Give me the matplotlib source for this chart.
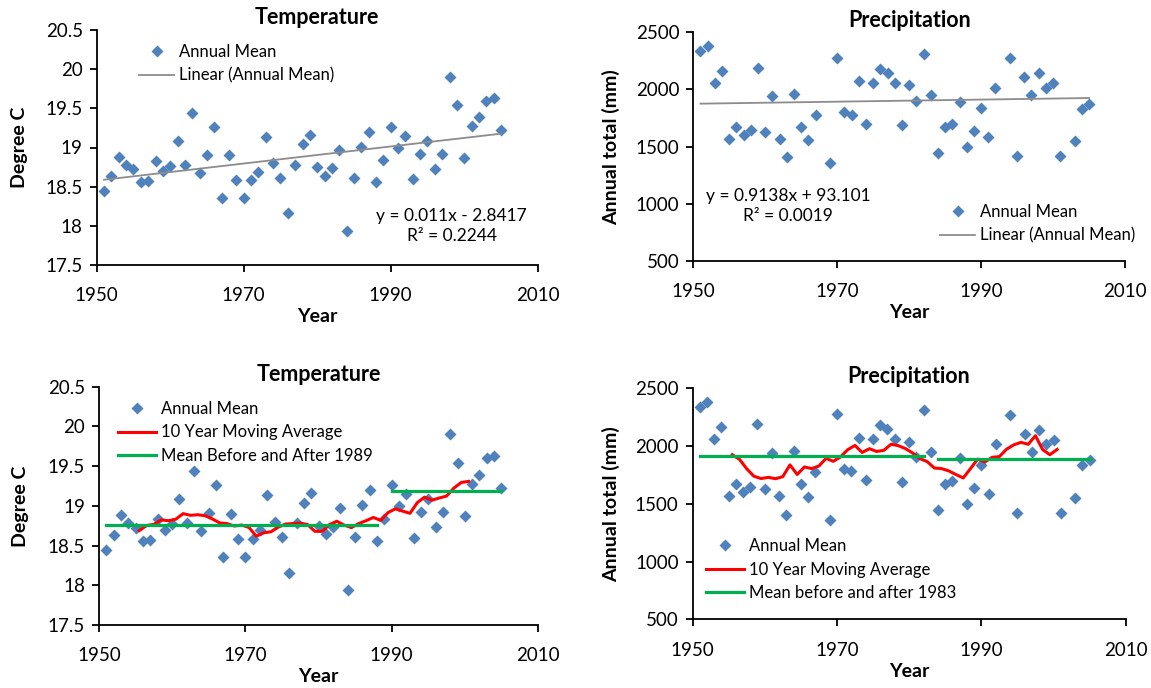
import matplotlib
matplotlib.use("Agg")
import matplotlib.pyplot as plt
import numpy as np
import pandas as pd

plt.rcParams['font.family'] = ['Lato', 'DejaVu Sans']

years = list(range(1951, 2006))

# annual mean temperature (degree C)
temp = [18.44, 18.63, 18.88, 18.78, 18.72, 18.56, 18.57, 18.83, 18.70, 18.77,
        19.08, 18.78, 19.44, 18.68, 18.91, 19.26, 18.36, 18.90, 18.58, 18.36,
        18.58, 18.69, 19.14, 18.80, 18.61, 18.16, 18.78, 19.04, 19.16, 18.75,
        18.64, 18.74, 18.97, 17.94, 18.61, 19.01, 19.20, 18.56, 18.84, 19.26,
        19.00, 19.15, 18.60, 18.92, 19.08, 18.73, 18.92, 19.90, 19.54, 18.87,
        19.28, 19.39, 19.60, 19.63, 19.22]

# annual total precipitation (mm); 1968, 1993, 2002 sit above the 2500 axis top
# (estimated from the moving average and the period means)
precip = [2336, 2383, 2058, 2161, 1570, 1673, 1599, 1649, 2190, 1629,
          1942, 1564, 1406, 1959, 1673, 1556, 1775, 2670, 1360, 2278,
          1804, 1781, 2073, 1702, 2058, 2178, 2146, 2058, 1687, 2038,
          1901, 2310, 1950, 1447, 1673, 1696, 1892, 1497, 1637, 1839,
          1585, 2015, 2760, 2272, 1418, 2105, 1950, 2140, 2015, 2053,
          1418, 2760, 1550, 1833, 1877]

precip_fit = [0.9138, 93.101]
temp_eq = ["y = 0.011x - 2.8417", "R² = 0.2244"]
precip_eq = ["y = 0.9138x + 93.101", "R² = 0.0019"]

# periods used for the before / after means
temp_periods = [(1951, 1988), (1990, 2005)]
precip_periods = [(1951, 1982), (1984, 2005)]

x_ticks = [1950, 1970, 1990, 2010]
temp_ticks = [17.5, 18, 18.5, 19, 19.5, 20, 20.5]
temp_labels = ['17.5', '18', '18.5', '19', '19.5', '20', '20.5']
precip_ticks = [500, 1000, 1500, 2000, 2500]

BLUE = '#4F81BD'
GRAY = '#8C8C8C'
RED = '#FF0000'
GREEN = '#00B050'

W, H = 1151, 688
fig = plt.figure(figsize=(W / 100, H / 100), dpi=100)

LEG = dict(bbox_transform=fig.transFigure, frameon=False, fontsize=12, handletextpad=0.3,
           borderpad=0, borderaxespad=0, labelspacing=0.45, loc='upper left')


def px_axes(x0, y0, x1, y1):
    return fig.add_axes([x0 / W, 1 - y1 / H, (x1 - x0) / W, (y1 - y0) / H])


def style(ax, ylim, yticks, ylabels, ylabel, title, ylab_x):
    ax.set_xlim(1950, 2010)
    ax.set_xticks(x_ticks)
    ax.set_ylim(ylim)
    ax.set_yticks(yticks)
    ax.set_yticklabels(ylabels)
    for s in ['top', 'right']:
        ax.spines[s].set_visible(False)
    for s in ['left', 'bottom']:
        ax.spines[s].set_linewidth(1.3)
    ax.tick_params(axis='both', direction='out', length=5, width=1.3, labelsize=13.5)
    ax.tick_params(axis='x', pad=11)
    ax.tick_params(axis='y', pad=5)
    ax.set_title(title, fontsize=15.5, fontweight='bold', pad=4)
    ax.set_ylabel(ylabel, fontsize=14, fontweight='bold')
    ax.set_xlabel('Year', fontsize=14, fontweight='bold', labelpad=3)
    ax.yaxis.set_label_coords(ylab_x, 0.5)


ser_t = pd.Series(temp, index=years)
ser_p = pd.Series(precip, index=years)

# ---- top left: temperature with linear trend
ax1 = px_axes(96.7, 30, 537.7, 265)
ax1.plot(years, temp, ls='none', marker='D', ms=6, color=BLUE, mec='none', label='Annual Mean')
k, b = np.polyfit(years, temp, 1)
ax1.plot([years[0], years[-1]], [k * years[0] + b, k * years[-1] + b], color=GRAY, lw=1.3,
         label='Linear (Annual Mean)')
style(ax1, (17.5, 20.5), temp_ticks, temp_labels, 'Degree C', 'Temperature', -0.155)
ax1.legend(bbox_to_anchor=(139 / W, 1 - 44 / H), handlelength=2.1, **LEG)
ax1.text(0.805, 0.166, temp_eq[0] + '\n' + temp_eq[1], transform=ax1.transAxes, ha='center',
         va='center', fontsize=12.5, linespacing=1.25)

# ---- top right: precipitation with linear trend
ax2 = px_axes(693.3, 32.3, 1125, 261)
ax2.plot(years, precip, ls='none', marker='D', ms=6, color=BLUE, mec='none', label='Annual Mean')
ax2.plot([years[0], years[-1]],
         [precip_fit[0] * years[0] + precip_fit[1], precip_fit[0] * years[-1] + precip_fit[1]],
         color=GRAY, lw=1.3, label='Linear (Annual Mean)')
style(ax2, (500, 2500), precip_ticks, [str(t) for t in precip_ticks], 'Annual total (mm)',
      'Precipitation', -0.17)
ax2.legend(bbox_to_anchor=(940 / W, 1 - 204 / H), handlelength=2.1, **LEG)
ax2.text(0.22, 0.24, precip_eq[0] + '\n' + precip_eq[1], transform=ax2.transAxes, ha='center',
         va='center', fontsize=12.5, linespacing=1.25)


def bottom(ax, ser, periods, leg_label, leg_xy):
    ax.plot(years, ser.values, ls='none', marker='D', ms=6, color=BLUE, mec='none',
            label='Annual Mean')
    ma = ser.rolling(10).mean().dropna()
    ax.plot(ma.index - 4.5, ma.values, color=RED, lw=2.2, label='10 Year Moving Average')
    for i, (a, z) in enumerate(periods):
        m = ser.loc[a:z].mean()
        ax.plot([a, z], [m, m], color=GREEN, lw=2.3, label=leg_label if i == 0 else None)
    ax.legend(bbox_to_anchor=(leg_xy[0] / W, 1 - leg_xy[1] / H), handlelength=2.3, **LEG)


# ---- bottom left: temperature moving average
ax3 = px_axes(99, 386.7, 538, 625)
bottom(ax3, ser_t, temp_periods, 'Mean Before and After 1989', (118, 401))
style(ax3, (17.5, 20.5), temp_ticks, temp_labels, 'Degree C', 'Temperature', -0.16)

# ---- bottom right: precipitation moving average
ax4 = px_axes(692.5, 388.2, 1125.7, 619.3)
bottom(ax4, ser_p, precip_periods, 'Mean before and after 1983', (706, 538))
style(ax4, (500, 2500), precip_ticks, [str(t) for t in precip_ticks], 'Annual total (mm)',
      'Precipitation', -0.167)

fig.savefig('out.png', dpi=100)
